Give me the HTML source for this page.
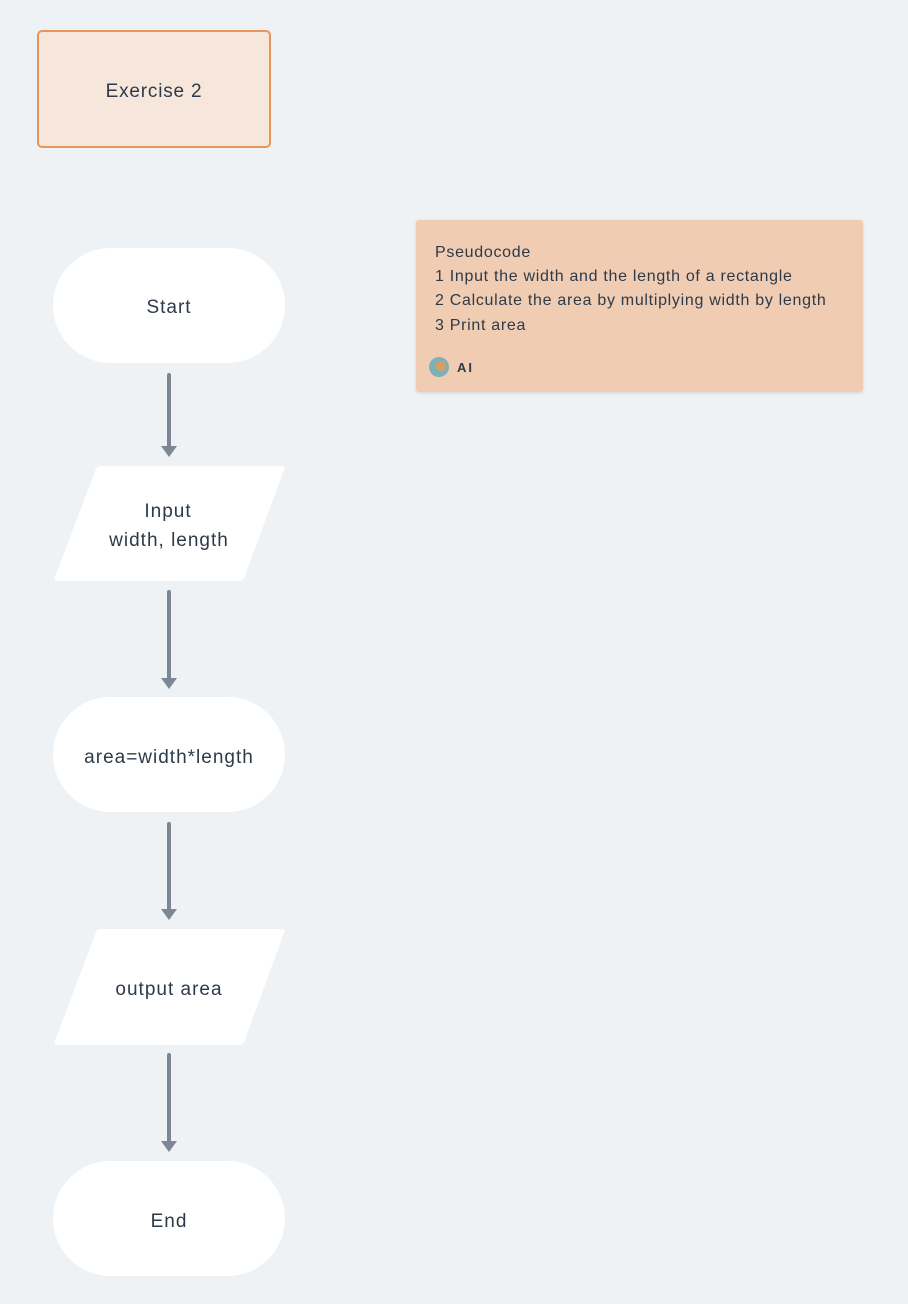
<!DOCTYPE html>
<html><head><style>
html,body{margin:0;padding:0;background:#eff2f5;}
svg{display:block;font-family:"Liberation Sans",sans-serif;}
</style></head><body>
<svg width="908" height="1304" viewBox="0 0 908 1304" xmlns="http://www.w3.org/2000/svg">
<defs>
<filter id="sh" x="-10%" y="-10%" width="120%" height="130%"><feDropShadow dx="0" dy="1" stdDeviation="1.5" flood-color="#000" flood-opacity="0.12"/></filter>
</defs>
<rect x="0" y="0" width="908" height="1304" fill="#eff2f5"/>
<rect x="38" y="31" width="232" height="116" rx="4" fill="#f6e6dc" stroke="#e8955a" stroke-width="2"/>
<text x="154" y="97" text-anchor="middle" font-size="19" letter-spacing="0.8" fill="#2c3a4a">Exercise 2</text>

<rect x="416" y="220" width="447" height="172" rx="3" fill="#f0cdb2" filter="url(#sh)"/>
<g font-size="16" fill="#2c3a4a" letter-spacing="0.7">
<text x="435" y="257">Pseudocode</text>
<text x="435" y="281">1 Input the width and the length of a rectangle</text>
<text x="435" y="305">2 Calculate the area by multiplying width by length</text>
<text x="435" y="330">3 Print area</text>
</g>
<circle cx="439" cy="367" r="10" fill="#7fb0b8"/>
<circle cx="441" cy="366" r="5" fill="#d8a060"/>
<text x="457" y="372" font-size="13" font-weight="bold" fill="#2c3a4a" letter-spacing="2">AI</text>

<g fill="#fff">
<rect x="53" y="248" width="232" height="115" rx="57.5"/>
<path d="M101,466 L282,466 Q286,466 284,470 L244,578 Q243,581 238,581 L58,581 Q53,581 55,577 L96,469 Q97,466 101,466 Z"/>
<rect x="53" y="697" width="232" height="115" rx="57.5"/>
<path d="M101,929 L282,929 Q286,929 284,933 L244,1042 Q243,1045 238,1045 L58,1045 Q53,1045 55,1041 L96,932 Q97,929 101,929 Z"/>
<rect x="53" y="1161" width="232" height="115" rx="57.5"/>
</g>
<g font-size="19" fill="#2c3a4a" text-anchor="middle" letter-spacing="1">
<text x="168" y="517">Input</text>
<text x="169" y="546">width, length</text>
<text x="169" y="313">Start</text>
<text x="169" y="763">area=width*length</text>
<text x="169" y="995">output area</text>
<text x="169" y="1227">End</text>
</g>
<g stroke="#7c8796" stroke-width="4" stroke-linecap="round" fill="#7c8796">
<line x1="169" y1="375" x2="169" y2="447"/>
<line x1="169" y1="592" x2="169" y2="679"/>
<line x1="169" y1="824" x2="169" y2="910"/>
<line x1="169" y1="1055" x2="169" y2="1142"/>
</g>
<g fill="#7c8796">
<path d="M161,446 L177,446 L169,457 Z"/>
<path d="M161,678 L177,678 L169,689 Z"/>
<path d="M161,909 L177,909 L169,920 Z"/>
<path d="M161,1141 L177,1141 L169,1152 Z"/>
</g>
</svg>
</body></html>
